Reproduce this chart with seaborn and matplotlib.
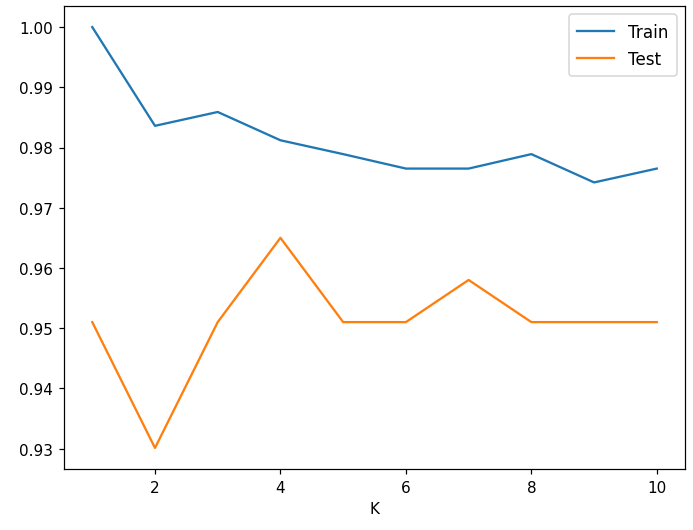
import matplotlib
matplotlib.use("Agg")
import matplotlib.pyplot as plt
import seaborn as sns
import pandas as pd

k_values = [1, 2, 3, 4, 5, 6, 7, 8, 9, 10]
train_scores = [1.0, 0.9836, 0.9859, 0.9812, 0.9789, 0.9765, 0.9765, 0.9789, 0.9742, 0.9765]
test_scores = [0.9510, 0.9301, 0.9510, 0.9650, 0.9510, 0.9510, 0.9580, 0.9510, 0.9510, 0.9510]

df = pd.DataFrame({"K": k_values, "Train": train_scores, "Test": test_scores})
long_df = df.melt(id_vars="K", var_name="set", value_name="score")

fig, ax = plt.subplots(figsize=(6.3, 4.827), dpi=110)
fig.subplots_adjust(left=0.0924, right=0.9885, top=0.9868, bottom=0.1149)
sns.lineplot(data=long_df, x="K", y="score", hue="set",
             palette=["#1f77b4", "#ff7f0e"], ax=ax)
ax.set_ylabel("")
ax.set_xlabel("K")
ax.legend(title=None, loc="upper right", fontsize=11, handlelength=2.2,
          borderpad=0.5, labelspacing=0.55)
fig.savefig("out.png", dpi=110)
